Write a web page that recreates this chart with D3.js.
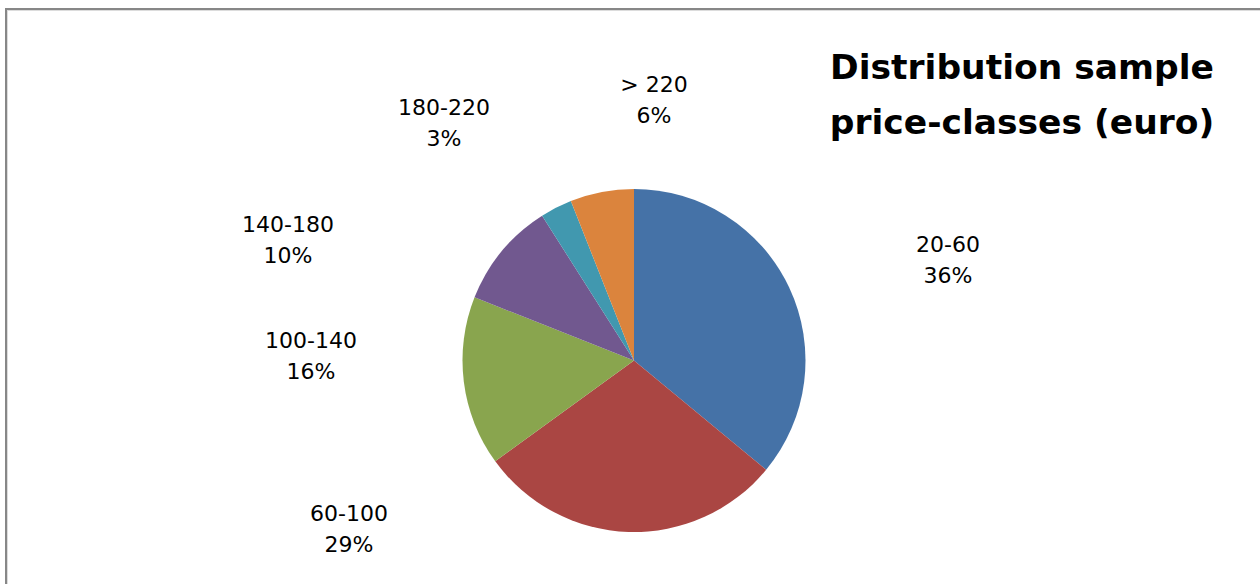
<!DOCTYPE html>
<html>
<head>
<meta charset="utf-8">
<script src="https://cdn.jsdelivr.net/npm/d3@7"></script>
<style>
  html, body { margin: 0; padding: 0; background: #fff; }
  svg { display: block; }
</style>
</head>
<body>
<svg id="chart" width="1260" height="584"></svg>
<script>
// Price classes and their share of the sample (percent)
const categories = ["20-60", "60-100", "100-140", "140-180", "180-220", "> 220"];
const shares = [36, 29, 16, 10, 3, 6];
const colors = ["#4572A7", "#AA4643", "#89A54E", "#71588F", "#4198AF", "#DB843D"];
const titleLines = ["Distribution sample", "price-classes (euro)"];

// Label anchor points (centre x, baseline of first line) for each class
const labelAnchors = [
  [948, 252], [349, 521], [311, 348], [288, 232], [444, 115], [654, 92]
];

const svg = d3.select("#chart");
const W = 1260, H = 584;

// Chart frame
svg.append("rect")
  .attr("x", 6).attr("y", 9)
  .attr("width", W + 20).attr("height", H + 20)
  .attr("fill", "none").attr("stroke", "#878787").attr("stroke-width", 2);
svg.append("rect")
  .attr("x", 7.5).attr("y", 10.5)
  .attr("width", W + 20).attr("height", H + 20)
  .attr("fill", "none").attr("stroke", "#dcdcdc").attr("stroke-width", 1);

const cx = 634, cy = 360.5, r = 171.5;

const pie = d3.pie().sort(null).value(d => d.value);
const arc = d3.arc().innerRadius(0).outerRadius(r);
const data = categories.map((c, i) => ({ name: c, value: shares[i], color: colors[i] }));

const g = svg.append("g").attr("transform", `translate(${cx},${cy})`);
g.selectAll("path")
  .data(pie(data))
  .join("path")
  .attr("d", arc)
  .attr("fill", d => d.data.color);

// Data labels: class name and percentage
const fmt = d3.format(".0%");
const total = d3.sum(shares);
const labels = svg.append("g")
  .attr("font-family", "'DejaVu Sans', sans-serif")
  .attr("font-size", 22)
  .attr("fill", "#000")
  .attr("text-anchor", "middle");
data.forEach((d, i) => {
  const [x, y] = labelAnchors[i];
  const t = labels.append("text").attr("x", x).attr("y", y);
  t.append("tspan").attr("x", x).text(d.name);
  t.append("tspan").attr("x", x).attr("dy", 31).text(fmt(d.value / total));
});

// Title
const title = svg.append("text")
  .attr("x", 1022).attr("y", 79)
  .attr("font-family", "'DejaVu Sans', sans-serif")
  .attr("font-weight", "bold")
  .attr("font-size", 34.5)
  .attr("fill", "#000")
  .attr("text-anchor", "middle");
titleLines.forEach((line, i) => {
  title.append("tspan").attr("x", 1022).attr("dy", i === 0 ? 0 : 55).text(line);
});
</script>
</body>
</html>
